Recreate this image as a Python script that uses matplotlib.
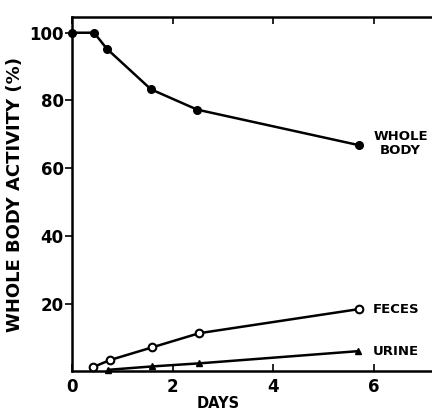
import matplotlib
matplotlib.use("Agg")
import matplotlib.pyplot as plt

# data
body_days = [0, 0.44, 0.69, 1.57, 2.49, 5.71]
body_pct = [100, 100, 95.3, 83.3, 77.3, 66.8]

feces_days = [0.42, 0.76, 1.59, 2.53, 5.7]
feces_pct = [1.3, 3.4, 7.1, 11.3, 18.4]

urine_days = [0.72, 1.6, 2.53, 5.69]
urine_pct = [0.5, 1.5, 2.4, 6.0]

x_ticks = [0, 2, 4, 6]
y_ticks = [20, 40, 60, 80, 100]

plt.rcParams["font.family"] = "DejaVu Sans"
plt.rcParams["font.weight"] = "bold"

fig = plt.figure(figsize=(4.32, 4.13), dpi=100)
ax = fig.add_axes([0.1667, 0.1005, 0.861, 0.858])

ax.plot(body_days, body_pct, color="black", lw=1.8, marker="o", ms=5.5,
        markerfacecolor="black", clip_on=False, zorder=3)
ax.plot(feces_days, feces_pct, color="black", lw=1.8, marker="o", ms=5.5,
        markerfacecolor="white", markeredgewidth=1.5, clip_on=False, zorder=3)
ax.plot(urine_days, urine_pct, color="black", lw=1.8, marker="^", ms=5,
        markerfacecolor="black", clip_on=False, zorder=3)

ax.set_xlim(0, 7.4)
ax.set_ylim(0, 104.6)
ax.set_xticks(x_ticks)
ax.set_yticks(y_ticks)
ax.tick_params(axis="x", direction="in", top=True, length=5, width=1.2,
               labelsize=12, pad=5)
ax.tick_params(axis="y", direction="out", length=5, width=1.2,
               labelsize=12, pad=1)
for lab in ax.get_xticklabels() + ax.get_yticklabels():
    lab.set_fontweight("bold")
for s in ax.spines.values():
    s.set_linewidth(1.8)

ax.set_xlabel("DAYS", fontsize=10.5, fontweight="bold", labelpad=1)
ax.xaxis.set_label_coords(2.9 / 7.4, -0.07)
ax.set_ylabel("WHOLE BODY ACTIVITY (%)", fontsize=13, fontweight="bold",
              labelpad=4)

ax.text(6.54, 67.3, "WHOLE\nBODY", fontsize=9.5, fontweight="bold",
        ha="center", va="center", linespacing=1.1)
ax.text(5.98, 18.4, "FECES", fontsize=9.5, fontweight="bold", va="center")
ax.text(5.98, 6.0, "URINE", fontsize=9.5, fontweight="bold", va="center")

fig.savefig("out.png", dpi=100)
